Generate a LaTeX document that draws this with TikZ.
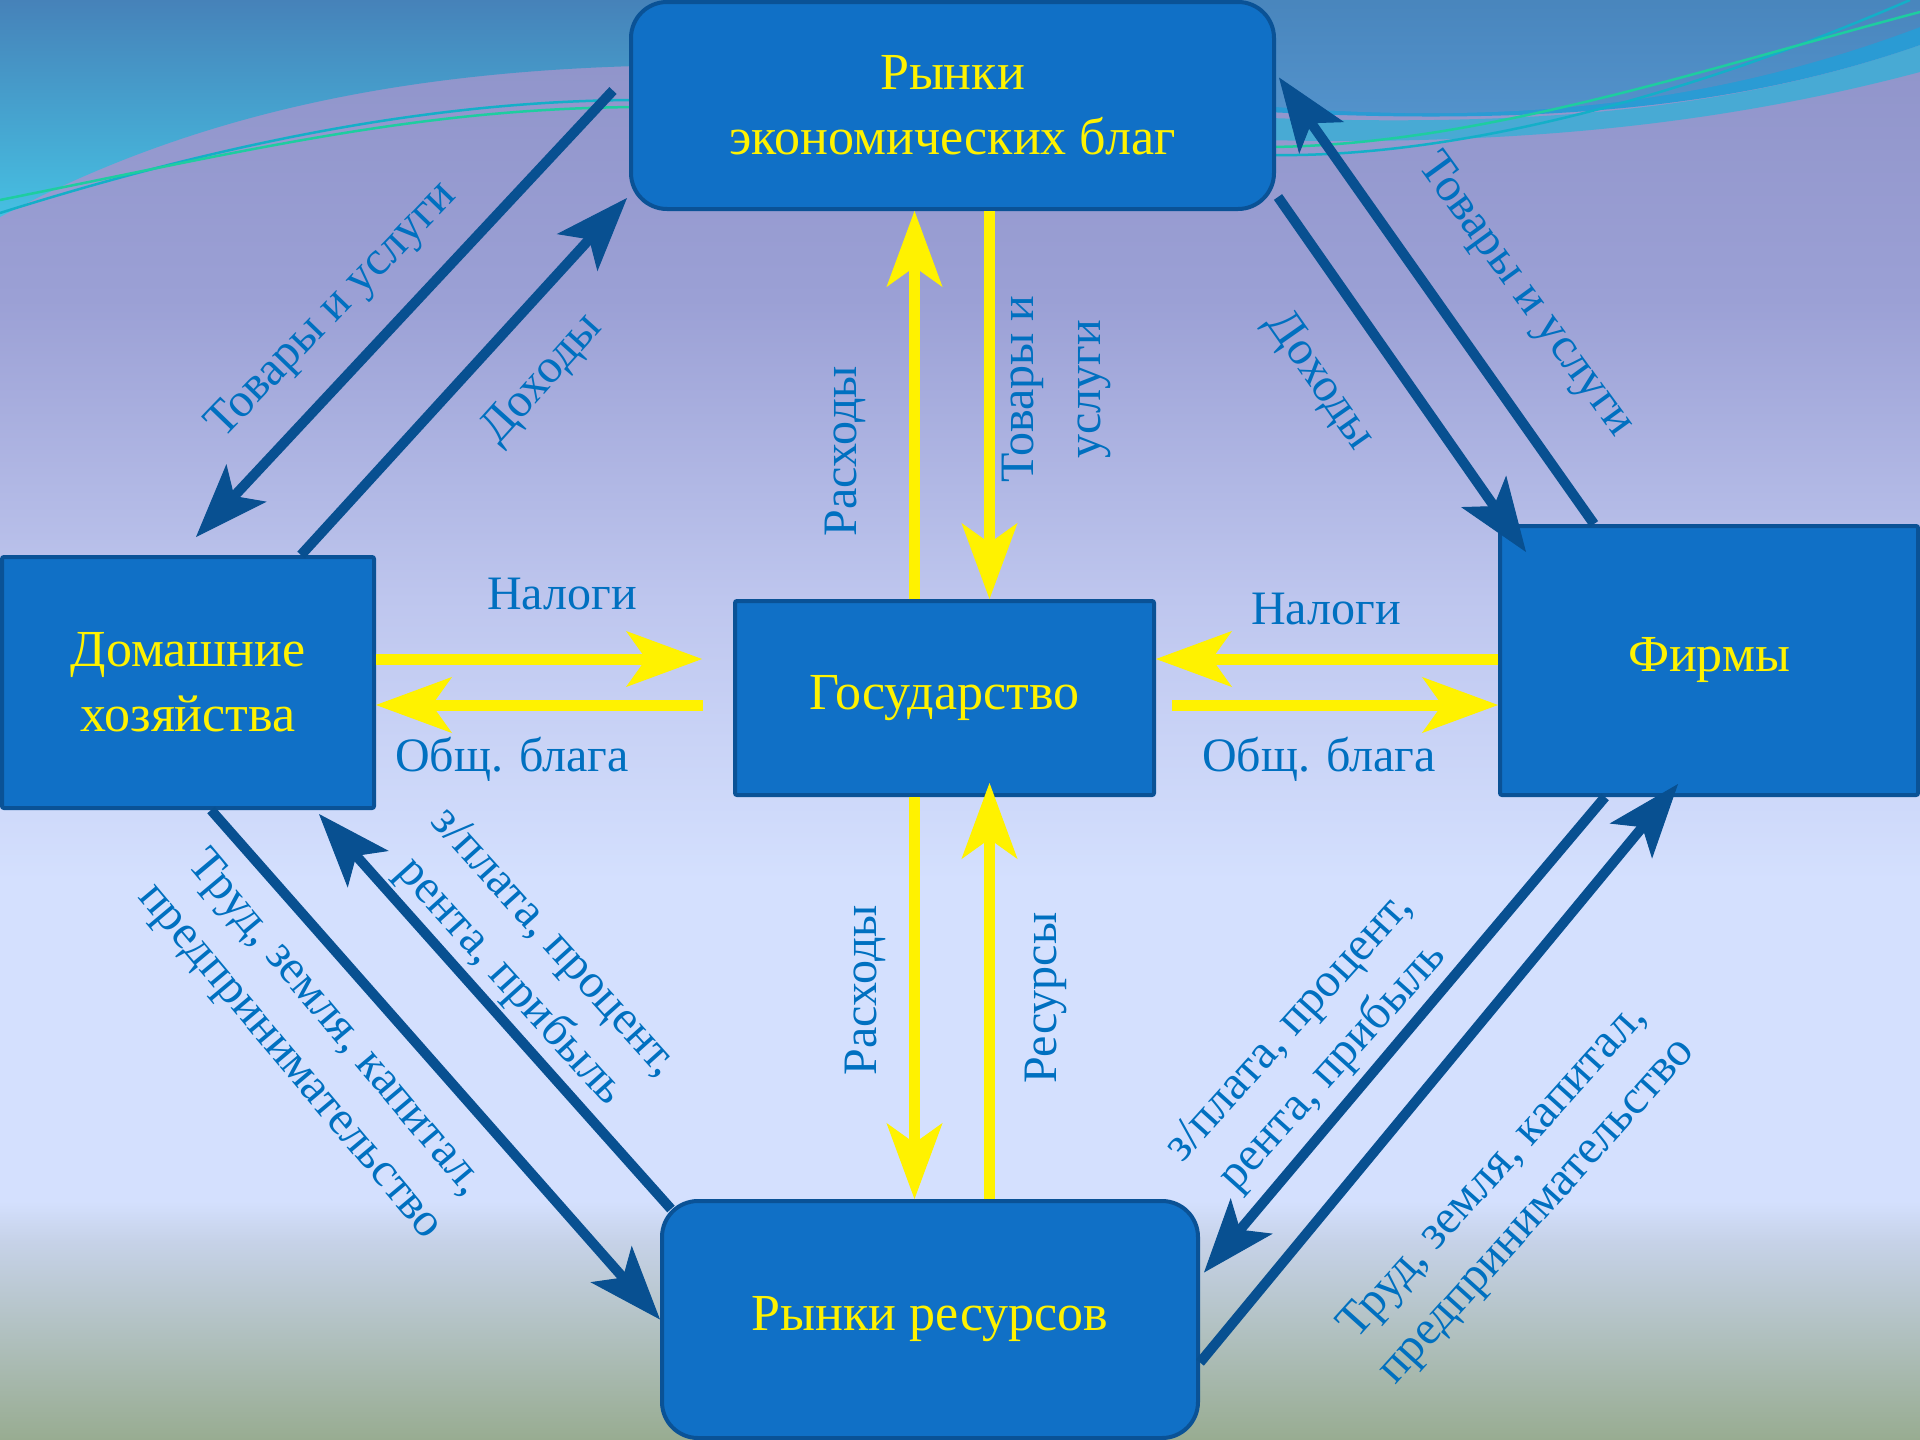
\documentclass[tikz,border=0pt]{standalone}
\usepackage{fontspec}
\setmainfont{Liberation Serif}
\usetikzlibrary{arrows.meta, positioning}

\definecolor{boxblue}{RGB}{16,112,198}
\definecolor{boxedge}{RGB}{10,82,150}
\definecolor{flowblue}{RGB}{8,80,145}
\definecolor{lblblue}{RGB}{0,112,192}
\definecolor{bgtop}{RGB}{142,146,200}
\definecolor{bgupper}{RGB}{155,160,213}
\definecolor{bgmid}{RGB}{190,198,238}
\definecolor{bglight}{RGB}{212,224,254}
\definecolor{bglow}{RGB}{198,210,232}
\definecolor{bgbot}{RGB}{152,172,145}
\definecolor{swtop}{RGB}{70,130,185}
\definecolor{swleft}{RGB}{70,192,226}
\definecolor{swblue}{RGB}{84,148,205}
\definecolor{swmid}{RGB}{42,155,212}
\definecolor{swteal}{RGB}{72,170,212}
\definecolor{wireteal}{RGB}{20,175,200}
\definecolor{wiregreen}{RGB}{30,205,160}

\pgfdeclareverticalshading{bgshade}{100bp}{color(0bp)=(bgbot); color(25bp)=(bgbot);
  color(31.9bp)=(bglow); color(33.3bp)=(bglight); color(44.4bp)=(bglight);
  color(54.2bp)=(bgmid); color(64.6bp)=(bgupper); color(75bp)=(bgtop); color(100bp)=(bgtop)}

\newcommand{\boxfont}{\fontsize{52}{65}\selectfont}
\newcommand{\lblfont}{\fontsize{48}{59}\selectfont}

\begin{document}
\begin{tikzpicture}[x=1pt, y=-1pt,
  market/.style={draw=boxedge, line width=4pt, fill=boxblue, rounded corners=36pt,
    text=yellow, font=\boxfont, align=center},
  agent/.style={market, rounded corners=2pt},
  yflow/.style={draw=yellow, line width=11pt,
    -{Stealth[length=76pt, width=56pt, inset=20pt, line width=1pt]}},
  bflow/.style={draw=flowblue, line width=10pt,
    -{Stealth[length=74pt, width=55pt, inset=18pt, line width=1pt]}},
  lbl/.style={text=lblblue, font=\lblfont, align=center}]

  \shade[shading=bgshade] (0,0) rectangle (1920,1440);
  \useasboundingbox (0,0) rectangle (1920,1440);

  % waves at the top
  \shade[top color=swtop, bottom color=swleft] (0,0) -- (700,0) -- (700,65)
    .. controls (420,66) and (200,110) .. (0,217) -- cycle;
  \fill[swteal] (1920,45) .. controls (1720,115) and (1500,130) .. (1200,115)
    -- (1200,138) .. controls (1500,150) and (1720,125) .. (1920,72) -- cycle;
  \fill[swmid] (1200,0) -- (1920,0) -- (1920,45) .. controls (1720,115) and (1500,128) .. (1200,108) -- cycle;
  \shade[top color=swtop!80!swblue, bottom color=swblue] (1200,0) -- (1920,0) -- (1920,27)
    .. controls (1700,110) and (1480,130) .. (1200,100) -- cycle;
  \draw[wireteal, line width=2.5pt] (0,213) .. controls (200,150) and (420,100) .. (640,100);
  \draw[wiregreen, line width=2.5pt] (0,200) .. controls (250,150) and (420,108) .. (640,107);
  \draw[wireteal, line width=2.5pt] (1270,155) .. controls (1450,158) and (1680,100) .. (1910,0);
  \draw[wiregreen, line width=2.5pt] (1270,147) .. controls (1480,145) and (1700,70) .. (1920,12);

  \node[market, minimum width=643pt, minimum height=207pt] (goods) at (952.5,105.5) {Рынки\\экономических благ};
  \node[agent, minimum width=372pt, minimum height=251pt] (house) at (188,682.5) {Домашние\\хозяйства};
  \node[agent, minimum width=419pt, minimum height=194pt] (gov) at (944.5,698) {Государство};
  \node[agent, minimum width=418pt, minimum height=269pt] (firms) at (1709,660.5) {Фирмы};
  \node[market, minimum width=536pt, minimum height=237pt] (res) at (930,1319.5) {Рынки ресурсов};

  \draw[bflow] ([shift={(-16pt,15pt)}]goods.west) -- ([shift={(8pt,18pt)}]house.north);
  \draw[bflow] ([xshift=113pt]house.north) -- ([shift={(-2pt,13pt)}]goods.south west);
  \draw[bflow] ([shift={(2pt,14pt)}]goods.south east) -- ([shift={(28pt,-28pt)}]firms.north west);
  \draw[bflow] ([xshift=96pt]firms.north west) -- ([shift={(3pt,28pt)}]goods.east);
  \draw[bflow] ([xshift=23pt]house.south) -- (res.west);
  \draw[bflow] ([shift={(11pt,-10pt)}]res.north west) -- ([shift={(-57pt,-4pt)}]house.south east);
  \draw[bflow] ([xshift=-104pt]firms.south) -- ([shift={(4pt,47pt)}]res.east);
  \draw[bflow] ([yshift=-43pt]res.east) -- ([shift={(-31pt,13pt)}]firms.south);

  \draw[yflow] ([xshift=-30pt]gov.north) -- ([xshift=-30pt]gov.north |- goods.south);
  \draw[yflow] ([xshift=45pt]gov.north |- goods.south) -- ([xshift=45pt]gov.north);
  \draw[yflow] ([xshift=-30pt]gov.south) -- ([xshift=-30pt]gov.south |- res.north);
  \draw[yflow] ([xshift=45pt]gov.south |- res.north) -- ([shift={(45pt,14pt)}]gov.south);
  \draw[yflow] ([yshift=39pt]gov.west -| house.east) -- ([shift={(-31pt,39pt)}]gov.west);
  \draw[yflow] ([shift={(-30pt,-7pt)}]gov.west) -- ([yshift=-7pt]gov.west -| house.east);
  \draw[yflow] ([yshift=39pt]gov.east -| firms.west) -- ([yshift=39pt]gov.east);
  \draw[yflow] ([shift={(16pt,-7pt)}]gov.east) -- ([yshift=-7pt]gov.east -| firms.west);

  \node[lbl] (taxL) at (562,594) {Налоги};
  \node[lbl] (pubL) at (512,759) {Общ. блага};
  \node[lbl] (taxR) at (1326,609) {Налоги};
  \node[lbl] (pubR) at (1319,759) {Общ. блага};
  \node[lbl, rotate=90] (spendU) at (845,451) {Расходы};
  \node[lbl, rotate=90] (goodsG) at (1056,389) {Товары и\\[8pt]услуги};
  \node[lbl, rotate=90] (spendD) at (865,990) {Расходы};
  \node[lbl, rotate=90] (resG) at (1046,998) {Ресурсы};
  \node[lbl, rotate=46] (gsTL) at (333,311) {Товары и услуги};
  \node[lbl, rotate=48] (incTL) at (543,380) {Доходы};
  \node[lbl, rotate=-54] (gsTR) at (1525,296) {Товары и услуги};
  \node[lbl, rotate=-55] (incTR) at (1319,381) {Доходы};
  \node[lbl, rotate=-48] (payBL) at (531,963) {з/плата, процент,\\рента, прибыль};
  \node[lbl, rotate=-50] (labBL) at (312,1043) {Труд, земля, капитал,\\предпринимательство};
  \node[lbl, rotate=48] (payBR) at (1312,1048) {з/плата, процент,\\рента, прибыль};
  \node[lbl, rotate=48] (labBR) at (1516,1192) {Труд, земля, капитал,\\предпринимательство};
\end{tikzpicture}
\end{document}
